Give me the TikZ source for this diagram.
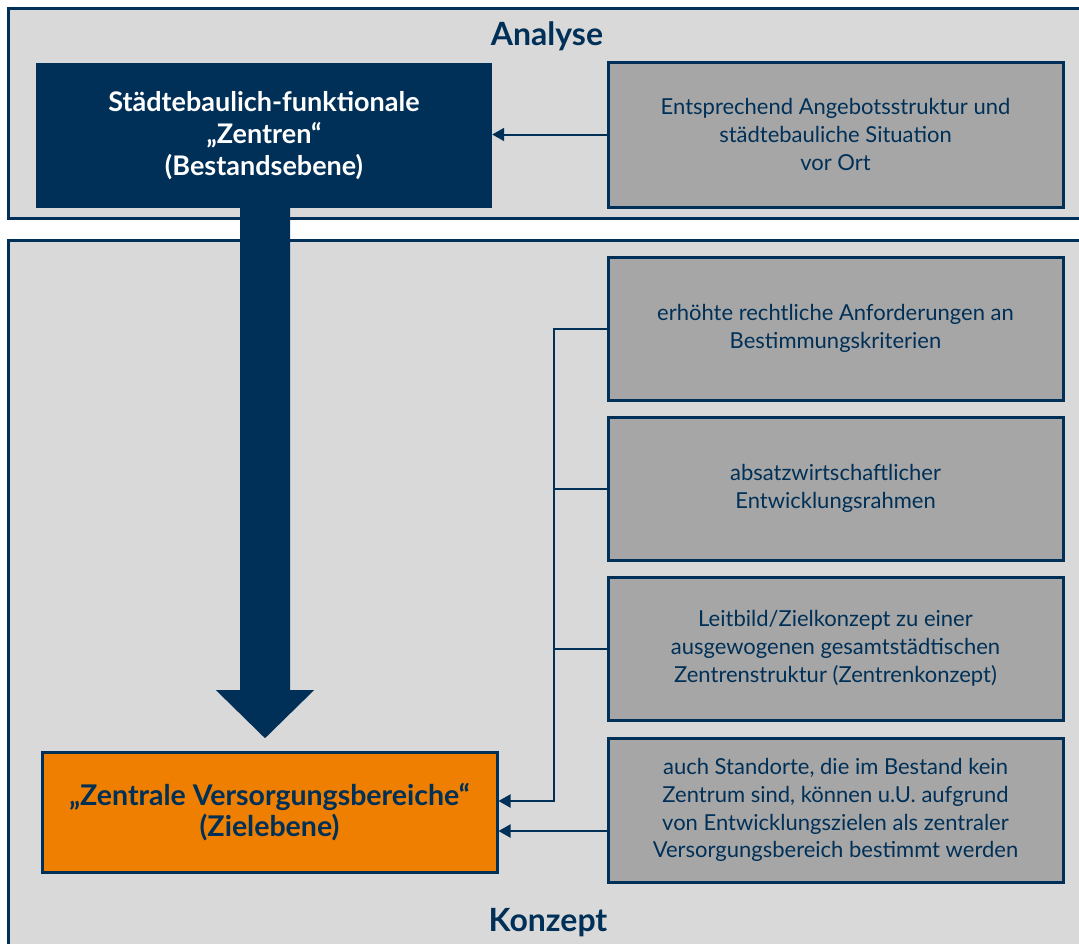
\documentclass[tikz,border=0pt]{standalone}
\usepackage{fontspec}
\setmainfont{Lato}
\usetikzlibrary{arrows.meta,calc}
\definecolor{navy}{HTML}{003057}
\definecolor{panelgray}{HTML}{D9D9D9}
\definecolor{boxgray}{HTML}{A6A6A6}
\definecolor{orangefill}{HTML}{EE7F00}
\tikzset{
  paneltitle/.style={text=navy, font=\fontsize{32}{36}\selectfont\bfseries, inner sep=0pt},
  darkbox/.style={fill=navy, draw=none, minimum width=456pt, minimum height=145pt, text=white, align=center, font=\fontsize{27}{32}\selectfont\bfseries, inner sep=0pt},
  graybox/.style={fill=boxgray, draw=navy, line width=3pt, minimum width=455pt, minimum height=143pt, text=navy, align=center, font=\fontsize{22}{27.8}\selectfont, inner sep=0pt},
  orangebox/.style={fill=orangefill, draw=navy, line width=3pt, minimum width=455pt, minimum height=120pt, text=navy, align=center, font=\fontsize{28.5}{31}\selectfont\bfseries, inner sep=0pt},
  link/.style={draw=navy, line width=2pt},
  conn/.style={link, -{Triangle[length=12pt,width=13pt]}},
}
\begin{document}
\begin{tikzpicture}[x=1pt,y=-1pt]
\useasboundingbox (0,0) rectangle (1079,943);
\clip (0,0) rectangle (1079,943);
% panels
\fill[white] (0,0) rectangle (1079,943);
\fill[panelgray] (8,8) rectangle (1100,218);
\draw[navy, line width=3pt] (1100,8) -- (8,8) -- (8,218) -- (1100,218);
\fill[panelgray] (8,240) rectangle (1100,960);
\draw[navy, line width=3pt] (1100,240) -- (8,240) -- (8,960);
\node[paneltitle] (analyse) at (547,36) {Analyse};
\node[paneltitle] (konzept) at (548,923) {Konzept};
% top row
\node[darkbox] (dark) at (264,135.5) {Städtebaulich-funktionale\\„Zentren“\\(Bestandsebene)};
\node[graybox, minimum height=145pt] (rt) at (835.5,134.5) {Entsprechend Angebotsstruktur und\\städtebauliche Situation\\vor Ort};
\draw[conn] (rt.west) -- (dark.east |- rt.west);
% right column
\node[graybox] (b1) at (835.5,328.5) {erhöhte rechtliche Anforderungen an\\Bestimmungskriterien};
\node[graybox] (b2) at (835.5,488.5) {absatzwirtschaftlicher\\Entwicklungsrahmen};
\node[graybox] (b3) at (835.5,648.5) {Leitbild/Zielkonzept zu einer\\ausgewogenen gesamtstädtischen\\Zentrenstruktur (Zentrenkonzept)};
\node[graybox, minimum height=144pt] (b4) at (835.5,810) {auch Standorte, die im Bestand kein\\Zentrum sind, können u.U. aufgrund\\von Entwicklungszielen als zentraler\\Versorgungsbereich bestimmt werden};
% target
\node[orangebox] (zvb) at (269.5,812) {„Zentrale Versorgungsbereiche“\\(Zielebene)};
% big arrow
\coordinate (bigtip) at ($(dark.south)+(1,530)$);
\fill[navy] ($(dark.south)+(-24,-1)$) -- ($(dark.south)+(26,-1)$) -- ($(bigtip)+(25,-48)$) -- ($(bigtip)+(49,-48)$) -- (bigtip) -- ($(bigtip)+(-49,-48)$) -- ($(bigtip)+(-25,-48)$) -- cycle;
% bus connectors
\coordinate (bus) at (554,0);
\coordinate (t1) at ($(zvb.east)+(0,-11)$);
\coordinate (t2) at ($(zvb.east)+(0,19)$);
\draw[link] (b1.west) -- (b1.west -| bus) -- (bus |- t1) -- ($(t1)+(5,0)$);
\draw[conn] (bus |- t1) -- (t1);
\draw[link] (b2.west) -- (b2.west -| bus);
\draw[link] (b3.west) -- (b3.west -| bus);
\draw[conn] (b4.west |- t2) -- (t2);
\end{tikzpicture}
\end{document}
